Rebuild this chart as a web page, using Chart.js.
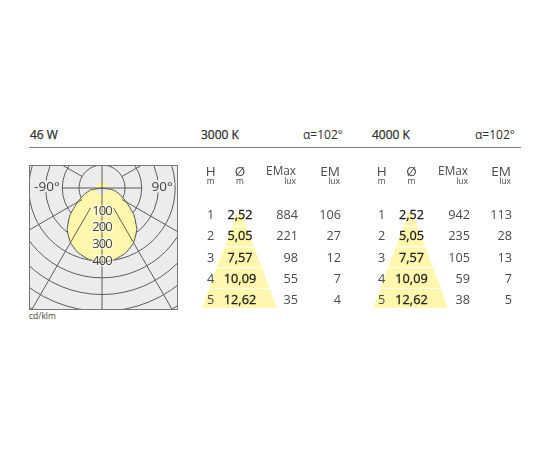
<!DOCTYPE html>
<html><head><meta charset="utf-8">
<script src="https://cdn.jsdelivr.net/npm/chart.js@4"></script>
<style>
html,body{margin:0;padding:0;background:#fff;width:550px;height:450px;overflow:hidden}
body{font-family:"Open Sans",sans-serif;color:#3c3c3c;position:relative}
.t{position:absolute;font-size:12px;line-height:16px;white-space:nowrap;color:#2e2e2e;font-weight:500;-webkit-text-stroke:.25px #2e2e2e}
.t.n{font-weight:400;-webkit-text-stroke:0}
#rule{position:absolute;left:29px;top:146.5px;width:492px;height:1px;background:#808080}
#plot{position:absolute;left:29px;top:165px;width:149px;height:145px;border:1px solid #777;box-sizing:border-box;overflow:hidden;background:#ececec}
#polar{position:absolute;left:-108px;top:-158px}
canvas.tb{position:absolute;top:120px}
</style></head><body>
<div class="t" style="left:30px;top:127px">46 W</div>
<div class="t" style="left:201px;top:127px">3000 K</div>
<div class="t n" style="left:303px;top:127px">α=102°</div>
<div class="t" style="left:372px;top:127px">4000 K</div>
<div class="t n" style="left:475px;top:127px">α=102°</div>
<div id="rule"></div>
<div id="plot"><canvas id="polar" width="360" height="360"></canvas></div>
<div class="t n" style="left:29px;top:309px;font-size:8.5px;line-height:14px;font-weight:500;color:#444">cd/klm</div>
<canvas id="t1" class="tb" width="170" height="200" style="left:190px"></canvas>
<canvas id="t2" class="tb" width="170" height="200" style="left:361px"></canvas>
<script>
// Polar light distribution (angle from nadir, every 10 degrees; the radar scale runs towards the left first)
const polarAngles = [0,10,20,30,40,50,60,70,80,90,100,110,120,130,140,150,160,170,180,190,200,210,220,230,240,250,260,270,280,290,300,310,320,330,340,350];
const polarValues = [406,397,376,340,286,211,130,76,32,-38,-38,-38,-38,-38,-38,-38,-38,-38,-38,-38,-38,-38,-38,-38,-38,-38,-38,-38,32,76,130,211,286,340,376,397];
const ringValues = [-38,100,200,300,400,500,600,700,800,900];
const ringLabels = [100,200,300,400];
const verticalSpokes = [0,180];
const sideSpokes = [90,270];
const sideSpokeEnd = 200;
const innerSpokes = [30,60,120,240,300,330];
const sideLabels = [["-90°",90,292],["90°",270,322]];
const scaleMin = -38, scaleMax = 1040;

// Tables
const heights = [1,2,3,4,5];
const diameters = ["2,52","5,05","7,57","10,09","12,62"];
const emax3000 = [884,221,98,55,35];
const em3000 = [106,27,12,7,4];
const emax4000 = [942,235,105,59,38];
const em4000 = [113,28,13,7,5];
const coneEdgeH = [0.82,1.50,2.47,3.46,4.44,5.39];
const coneEdgeD = [0.8,2.72,5.46,8.36,11.1,13.74];

const FONT = '"Open Sans",sans-serif';
const GRID = '#5c5c5c';

new Chart(document.getElementById('polar'), {
  type: 'radar',
  data: { labels: polarAngles, datasets: [{
    data: polarValues, backgroundColor: '#fff7ab', borderColor: '#4f4f4f', borderWidth: 1,
    pointRadius: 0, fill: true, tension: 0.15
  }]},
  options: {
    responsive: false, animation: false, events: [], layout: {padding: 0},
    plugins: {legend: {display: false}, tooltip: {enabled: false}},
    scales: { r: {
      min: scaleMin, max: scaleMax, startAngle: 180,
      afterBuildTicks: s => { s.ticks = ringValues.map(v => ({value: v})); },
      ticks: {display: false, z: 1},
      pointLabels: {display: false},
      angleLines: {display: false},
      grid: {color: GRID, lineWidth: 1, circular: true}
    }}
  },
  plugins: [{
    id: 'polarOverlay',
    afterDraw(chart) {
      const r = chart.scales.r, c = chart.ctx;
      const idx = a => polarAngles.indexOf(a);
      const spoke = (a, from, to) => {
        const p0 = r.getPointPositionForValue(idx(a), from);
        const p1 = r.getPointPositionForValue(idx(a), to);
        c.moveTo(p0.x, p0.y); c.lineTo(p1.x, p1.y);
      };
      c.save();
      c.strokeStyle = GRID; c.lineWidth = 1; c.beginPath();
      verticalSpokes.forEach(a => spoke(a, scaleMin, scaleMax));
      sideSpokes.forEach(a => spoke(a, scaleMin, sideSpokeEnd));
      innerSpokes.forEach(a => spoke(a, ringLabels[0], scaleMax));
      c.stroke();
      c.textAlign = 'center'; c.textBaseline = 'middle';
      c.font = '13px ' + FONT;
      c.letterSpacing = '-1px';
      ringLabels.forEach(v => {
        const p = r.getPointPositionForValue(0, v);
        c.lineWidth = 3; c.strokeStyle = 'rgba(255,255,255,.55)';
        c.strokeText(String(v), p.x, p.y);
        c.fillStyle = '#444'; c.fillText(String(v), p.x, p.y);
      });
      c.letterSpacing = '0px';
      c.font = '13.5px ' + FONT;
      sideLabels.forEach(([t, a, v]) => {
        const p = r.getPointPositionForValue(idx(a), v);
        c.lineWidth = 5; c.strokeStyle = '#ececec';
        c.strokeText(t, p.x, p.y - 1);
        c.fillStyle = '#444'; c.fillText(t, p.x, p.y - 1);
      });
      c.restore();
    }
  }]
});

function makeTable(id, emax, em, cols) {
  const bands = heights.map((h, i) => ({
    data: [
      {x: -coneEdgeD[i]/2, y: coneEdgeH[i]}, {x: coneEdgeD[i]/2, y: coneEdgeH[i]},
      {x: coneEdgeD[i+1]/2, y: coneEdgeH[i+1]}, {x: -coneEdgeD[i+1]/2, y: coneEdgeH[i+1]},
      {x: -coneEdgeD[i]/2, y: coneEdgeH[i]}
    ],
    showLine: true, fill: 'shape', backgroundColor: '#fff7ab', borderColor: '#ffffff',
    borderWidth: 0.8, pointRadius: 0, tension: 0
  }));
  new Chart(document.getElementById(id), {
    type: 'scatter',
    data: {datasets: bands},
    options: {
      responsive: false, animation: false, events: [], layout: {padding: 0},
      plugins: {legend: {display: false}, tooltip: {enabled: false}},
      scales: {
        x: {type: 'linear', display: false, min: -cols.d/5.5, max: (170 - cols.d)/5.5},
        y: {type: 'linear', display: false, reverse: true, min: -3.535, max: 5.943}
      }
    },
    plugins: [{
      id: 'tableText',
      afterDraw(chart) {
        const c = chart.ctx, y = chart.scales.y;
        const put = (t, x, py, align, font, color) => {
          c.font = font + ' ' + FONT; c.textAlign = align; c.fillStyle = color;
          c.fillText(String(t), x, py);
        };
        c.save(); c.textBaseline = 'middle';
        const H = '12.7px', HD = '13.5px', U = '8.5px', G = '#4a4a4a';
        put('H', cols.h, 52, 'center', HD, G);
        put('m', cols.h, 62, 'center', U, G);
        put('Ø', cols.o, 52, 'center', HD, G);
        put('m', cols.o, 62, 'center', U, G);
        put('EMax', cols.ex, 52, 'right', '11.8px', G);
        put('lux', cols.ex, 62, 'right', U, G);
        put('EM', cols.em, 52, 'right', HD, G);
        put('lux', cols.em, 62, 'right', U, G);
        heights.forEach((h, i) => {
          const py = y.getPixelForValue(h);
          put(h, cols.h, py, 'center', H, G);
          put(diameters[i], cols.o, py, 'center', '12.7px', '#222');
          c.lineWidth = 0.3; c.strokeStyle = '#222';
          c.strokeText(diameters[i], cols.o, py);
          put(emax[i], cols.ex + 2, py, 'right', H, G);
          put(em[i], cols.em + 1, py, 'right', H, G);
        });
        c.restore();
      }
    }]
  });
}
makeTable('t1', emax3000, em3000, {d: 49.3, h: 20.7, o: 50, ex: 106, em: 150});
makeTable('t2', emax4000, em4000, {d: 49.5, h: 20.7, o: 50.5, ex: 107, em: 150});
</script>
</body></html>
